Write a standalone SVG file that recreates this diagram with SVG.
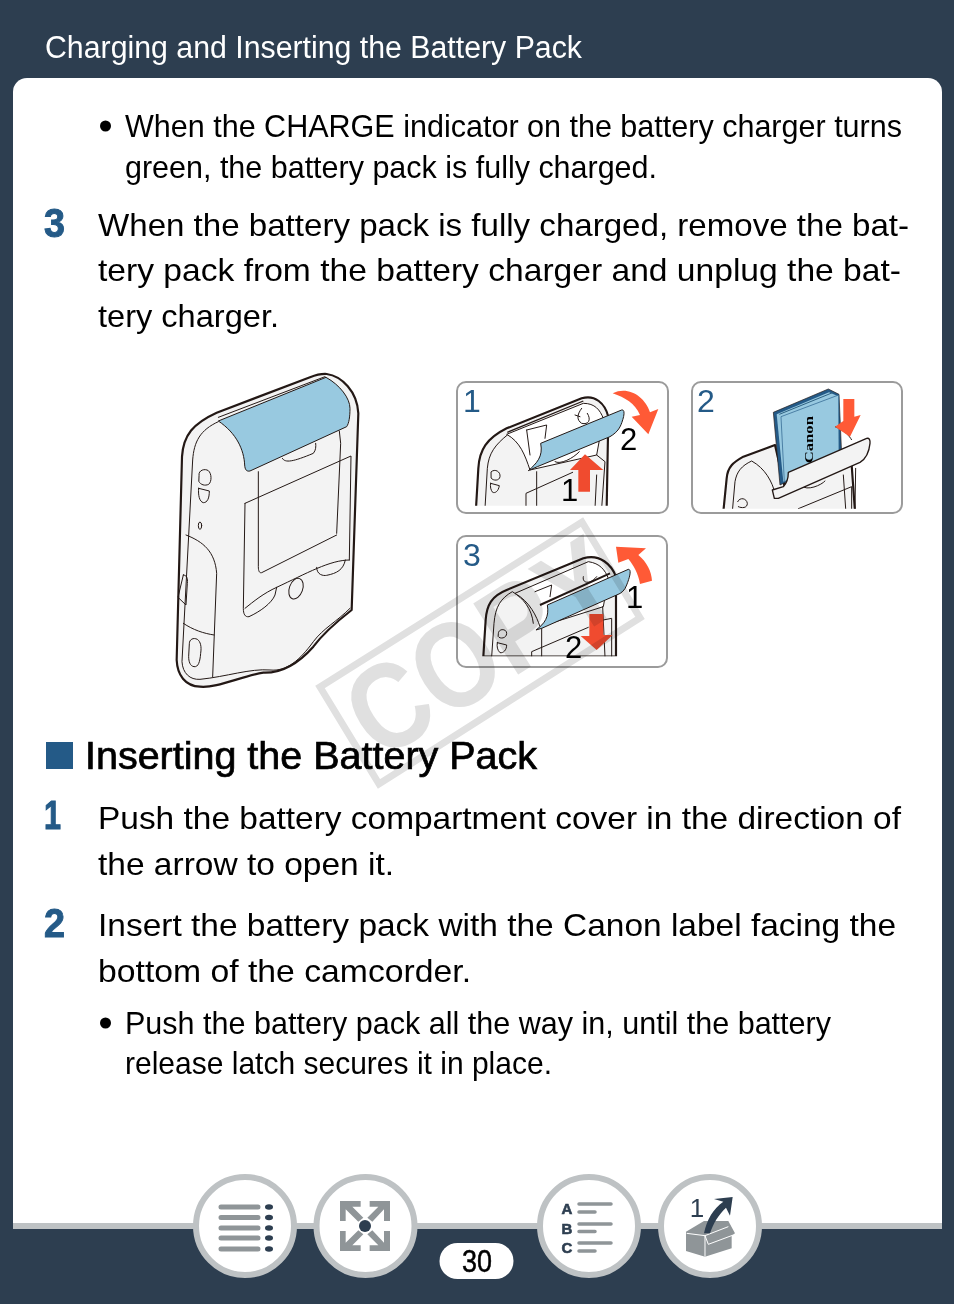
<svg xmlns="http://www.w3.org/2000/svg" width="954" height="1304" viewBox="0 0 954 1304">
<style>
text{font-family:"Liberation Sans",Arial,sans-serif;fill:#000}
.b{font-size:32px}.s{font-size:30.5px}
.n{font-size:40px;font-weight:bold;fill:#245a87;stroke:#245a87;stroke-width:1}
.pn{font-size:32px;fill:#245a87}
.l{font-size:31px}
.t{fill:none;stroke:#231815;stroke-width:3;stroke-linejoin:round;stroke-linecap:round}
.body{fill:#f3f3f3;stroke:#231815;stroke-width:6.500;stroke-linejoin:round}
.blue{fill:#98c9e0}
.frame{fill:#fff;stroke:#9b9b9b;stroke-width:2}
.ring{fill:#fff;stroke:#bec2c4;stroke-width:6}
.g{fill:#8f9598}.d{fill:#2d3e50}
.bar{stroke:#8f9598;stroke-width:5;stroke-linecap:round;fill:none}
</style>
<defs>
<clipPath id="c1"><rect x="0" y="0" width="700" height="392"/></clipPath>
<clipPath id="c3"><rect x="400" y="60" width="700" height="379"/></clipPath>
<clipPath id="c2"><rect x="0" y="0" width="700" height="401"/></clipPath>
</defs>
<rect id="bg" width="954" height="1304" fill="#2d3e50"/>
<path id="panel" d="M13,1229V92a14,14 0 0 1 14,-14H928a14,14 0 0 1 14,14V1229Z" fill="#fff"/>
<rect id="strip" x="13" y="1223" width="929" height="6" fill="#bec2c4"/>
<text x="45" y="58" font-size="31" textLength="537" lengthAdjust="spacingAndGlyphs" style="fill:#fff">Charging and Inserting the Battery Pack</text>

<g id="camera" transform="translate(150 360) scale(.33333)">
<path class="body" d="M530,42C575,48 622,95 625,160L605,750C560,785 520,820 490,860C450,905 400,940 340,938C270,950 200,985 150,980C105,978 82,945 80,900L96,290C100,225 130,190 200,158L480,52C500,44 515,41 530,42Z"/>
<path class="t" d="M205,185C150,210 132,245 128,300L96,905C98,940 120,960 150,958C230,950 300,925 360,930C410,935 450,900 490,845C520,805 560,785 600,745"/>
<path class="t" d="M205,172L525,50"/>
<path class="blue" d="M205,183L528,52C570,75 600,115 600,145C600,170 597,190 590,200L300,333C290,335 285,330 284,315C282,270 260,220 205,183Z" stroke="#231815" stroke-width="3"/>
<path class="t" d="M568,213L572,250L560,520M325,335L325,620C325,632 328,640 335,638L560,525"/>
<path class="t" d="M285,430L603,288L598,600M285,430L280,745C280,762 285,772 297,770C330,755 365,730 375,705L380,682M285,745C310,725 340,700 380,682"/>
<path class="t" d="M598,600C540,600 470,640 380,682M500,622C500,645 520,648 530,646C560,640 580,630 586,600"/>
<path class="t" d="M397,295C405,310 430,305 490,280C498,270 498,260 497,250"/>
<ellipse class="t" cx="438" cy="686" rx="20" ry="32" transform="rotate(20 438 686)"/>
<path class="t" d="M147,345C145,330 165,325 175,332C185,340 186,365 176,373C165,378 152,375 147,365ZM146,385L178,393C178,415 172,428 160,428C148,425 144,405 146,385Z"/>
<ellipse class="t" cx="150" cy="497" rx="5" ry="11"/>
<path class="t" d="M108,525C160,545 195,575 200,640L188,950M100,790C130,810 160,820 192,825"/>
<path class="t" d="M100,645C110,645 114,655 112,670L108,735L84,712L100,645Z"/>
<path class="t" d="M118,850C118,838 130,832 142,838C152,845 155,860 152,880C150,905 145,922 132,920C120,918 116,905 116,890Z"/>
</g>

<g id="p1">
<rect class="frame" x="457" y="382" width="211" height="131" rx="9"/>
<g transform="translate(450 375) scale(.33333)">
<g clip-path="url(#c1)">
<path class="body" d="M78,400L85,280C88,225 110,190 170,160L395,70C435,58 465,85 475,125L470,400Z"/>
<path class="t" d="M105,400L112,280C116,235 135,210 172,180"/>
<path d="M170,178L400,85C435,85 450,105 460,130L440,240L240,285C225,240 210,200 170,178Z" fill="#fff" stroke="#231815" stroke-width="3"/>
<path d="M172,172L400,78" stroke="#231815" stroke-width="4" fill="none"/>
<path class="t" d="M230,165L290,150L285,190M230,165L240,240M395,100C380,120 380,135 395,145C415,150 425,135 412,115M375,120L390,125"/>
<path class="t" d="M260,400V290M228,400V355L368,292M440,240L465,260L455,400M435,400L440,300"/>
<path class="t" d="M315,260C330,270 370,250 388,230"/>
<path class="t" d="M124,290C135,280 152,290 150,305C148,318 130,318 124,310ZM122,325L148,332C145,350 135,355 128,352C122,345 120,335 122,325Z"/>
</g>
<path class="blue" d="M272,205L515,105C525,103 523,120 518,135C512,155 505,170 480,185L262,275L235,287C260,265 280,245 272,205Z" stroke="#231815" stroke-width="3"/>
<path fill="#f04b2f" d="M405,238L460,285H420V350H385V285H360Z"/>
<path fill="#ff5a36" d="M488,55C535,32 585,65 600,112L625,102L595,178L545,125L570,120C555,85 525,68 488,55Z"/>
</g>
<text class="pn" x="463" y="412">1</text>
<text class="l" x="561" y="501" font-size="29">1</text>
<text class="l" x="620" y="450" font-size="29">2</text>
</g>

<g id="p2">
<rect class="frame" x="692" y="382" width="210" height="131" rx="9"/>
<g transform="translate(685 375) scale(.33333)">
<g clip-path="url(#c2)">
<path class="body" d="M115,410L125,310C128,275 145,262 175,245L270,210L300,340L500,270L510,410Z"/>
<path class="t" d="M142,410L150,320C155,290 170,272 200,258C240,280 262,320 270,355"/>
<path class="t" d="M475,300L482,401M512,280L510,401M340,401L500,335V401M350,332C365,350 410,330 420,318"/>
<path class="t" d="M158,380C165,365 185,370 187,385C187,400 170,400 160,395"/>
</g>
<path d="M265,112L430,42L462,58L470,240L285,330Z" fill="#245a87" stroke="#231815" stroke-width="2"/>
<path d="M275,118L432,52L456,62L462,240L295,320Z" fill="#98c9e0"/>
<path d="M283,118L445,52" stroke="#2d5f80" stroke-width="3" fill="none"/>
<path d="M288,125L461,60L462,240L298,320Z" fill="#98c9e0" stroke="#245a87" stroke-width="2"/>
<path class="body" style="stroke-width:4" d="M268,370L262,345L295,335C305,325 310,310 310,292L545,190C553,188 556,195 555,205C553,225 545,250 525,262L280,370Z"/>
<path d="M450,155C478,165 495,185 500,195" stroke="#231815" stroke-width="3" fill="none"/>
<path fill="#ff5a36" d="M475,72H508V125L527,120L495,185L450,155L475,138Z"/>
<text x="0" y="0" transform="translate(385 265) rotate(-90)" font-size="40" font-weight="bold" textLength="142" lengthAdjust="spacingAndGlyphs" style="font-family:'Liberation Serif',serif">Canon</text>
</g>
<text class="pn" x="697" y="412">2</text>
</g>

<g id="p3">
<rect class="frame" x="457" y="536" width="210" height="131" rx="9"/>
<g transform="translate(310 510) scale(.33333)">
<g clip-path="url(#c3)">
<path class="body" d="M520,440L527,330C530,285 545,258 590,240L820,145C870,130 905,165 918,200L918,440Z"/>
<path class="t" d="M545,440L552,340C556,290 572,265 607,245C640,265 665,295 670,340"/>
<path d="M615,250L835,155C870,160 885,180 895,205L880,290L690,350C680,320 660,275 615,250Z" fill="#fff" stroke="#231815" stroke-width="3"/>
<path d="M690,285L900,190" stroke="#231815" stroke-width="6" fill="none"/>
<path class="t" d="M675,245L725,225L720,260M820,200C815,220 840,225 860,200M695,440V350M665,440V425L835,352M878,290L885,440M905,440V325L880,330"/>
<path class="t" d="M565,370C565,355 590,355 590,370C590,385 570,388 565,380ZM562,398L590,405C590,420 580,430 570,428C562,420 560,410 562,398Z"/>
</g>
<path class="blue" d="M712,285L955,178C965,178 960,200 950,225C945,240 935,250 920,255L695,355L678,360C705,340 718,320 712,285Z" stroke="#231815" stroke-width="3"/>
<path fill="#f04b2f" d="M838,312H880V375H908L860,420L812,378H838Z"/>
<path fill="#ff5a36" d="M918,110L1008,115L985,135C1010,155 1025,185 1026,212L990,222C985,190 970,165 955,147L925,158Z"/>
</g>
<text class="pn" x="463" y="566">3</text>
<text class="l" x="626" y="608" font-size="29">1</text>
<text class="l" x="565" y="658" font-size="29">2</text>
</g>

<g id="watermark" style="mix-blend-mode:multiply">
<path d="M320,687L582,522L640,618L379,784Z" fill="none" stroke="#e0e0e0" stroke-width="7"/>
<text transform="translate(484 650) rotate(-32.300)" x="0" y="39" text-anchor="middle" font-size="122" font-weight="bold" textLength="296" lengthAdjust="spacingAndGlyphs" style="fill:#e0e0e0">COPY</text>
</g>

<g id="text-top">
<circle cx="105.500" cy="126" r="5.500"/>
<text class="s" x="125" y="137" textLength="777" lengthAdjust="spacingAndGlyphs">When the CHARGE indicator on the battery charger turns</text>
<text class="s" x="125" y="178" textLength="532" lengthAdjust="spacingAndGlyphs">green, the battery pack is fully charged.</text>
<text class="n" x="44" y="237" textLength="21" lengthAdjust="spacingAndGlyphs">3</text>
<text class="b" x="98" y="236" textLength="811" lengthAdjust="spacingAndGlyphs">When the battery pack is fully charged, remove the bat-</text>
<text class="b" x="98" y="281" textLength="803" lengthAdjust="spacingAndGlyphs">tery pack from the battery charger and unplug the bat-</text>
<text class="b" x="98" y="327" textLength="181" lengthAdjust="spacingAndGlyphs">tery charger.</text>
</g>

<g id="text-bottom">
<rect x="46" y="742" width="27" height="27" fill="#245a87"/>
<text x="85" y="769" font-size="38" textLength="452" lengthAdjust="spacingAndGlyphs" stroke="#000" stroke-width=".7">Inserting the Battery Pack</text>
<text class="n" x="44" y="829" textLength="17" lengthAdjust="spacingAndGlyphs">1</text>
<text class="b" x="98" y="829" textLength="803" lengthAdjust="spacingAndGlyphs">Push the battery compartment cover in the direction of</text>
<text class="b" x="98" y="875" textLength="296" lengthAdjust="spacingAndGlyphs">the arrow to open it.</text>
<text class="n" x="44" y="937" textLength="21" lengthAdjust="spacingAndGlyphs">2</text>
<text class="b" x="98" y="936" textLength="798" lengthAdjust="spacingAndGlyphs">Insert the battery pack with the Canon label facing the</text>
<text class="b" x="98" y="982" textLength="373" lengthAdjust="spacingAndGlyphs">bottom of the camcorder.</text>
<circle cx="105.500" cy="1023" r="5.500"/>
<text class="s" x="125" y="1034" textLength="706" lengthAdjust="spacingAndGlyphs">Push the battery pack all the way in, until the battery</text>
<text class="s" x="125" y="1074" textLength="427" lengthAdjust="spacingAndGlyphs">release latch secures it in place.</text>
</g>

<g id="btn-contents">
<circle class="ring" cx="245" cy="1226" r="49"/>
<path class="bar" d="M221,1207H258M221,1217.500H258M221,1228H258M221,1238H258M221,1249H258"/>
<g class="d"><ellipse cx="269" cy="1207" rx="4" ry="2.800"/><ellipse cx="269" cy="1217.500" rx="4" ry="2.800"/><ellipse cx="269" cy="1228" rx="4" ry="2.800"/><ellipse cx="269" cy="1238" rx="4" ry="2.800"/><ellipse cx="269" cy="1249" rx="4" ry="2.800"/></g>
</g>
<g id="btn-expand">
<circle class="ring" cx="365.500" cy="1226" r="49"/>
<g class="g" transform="translate(180 1165) scale(.33333)">
<path d="M480,108H542V125L517,125L550,158L535,170L497,133V168H480ZM630,108H569V125L595,125L562,158L577,170L612,133V168H630ZM480,258H542V241L517,241L550,208L535,196L497,233V198H480ZM630,258H569V241L595,241L562,208L577,196L612,233V198H630Z"/>
</g>
<circle class="d" cx="365" cy="1226" r="6"/>
</g>

<rect id="page-pill" x="439.500" y="1243" width="74" height="36" rx="18" fill="#fff"/>
<text x="477" y="1272" font-size="31" text-anchor="middle" textLength="30" lengthAdjust="spacingAndGlyphs" stroke="#000" stroke-width=".5">30</text>

<g id="btn-index">
<circle class="ring" cx="589" cy="1226" r="49"/>
<g style="stroke:#2d3e50;stroke-width:.6">
<text x="567" y="1214" font-size="15" font-weight="bold" text-anchor="middle" style="fill:#2d3e50">A</text>
<text x="567" y="1234" font-size="15" font-weight="bold" text-anchor="middle" style="fill:#2d3e50">B</text>
<text x="567" y="1253" font-size="15" font-weight="bold" text-anchor="middle" style="fill:#2d3e50">C</text>
</g>
<path class="bar" style="stroke-width:3.500" d="M579,1204H611M579,1212H595M579,1224H611M579,1231.500H595M579,1243H611M579,1251H595"/>
</g>
<g id="btn-return">
<circle class="ring" cx="710" cy="1226" r="49"/>
<text x="697" y="1217" font-size="26" text-anchor="middle" style="fill:#2d3e50">1</text>
<g transform="translate(430 1165) scale(.33333)">
<path class="g" d="M768,200L822,168L895,168L915,205L905,212V250L825,275L768,258Z"/>
<path d="M770,205L825,212V275M825,212L835,238L910,210M825,212L895,185" stroke="#fff" stroke-width="3" fill="none"/>
<path class="d" d="M822,205C830,165 850,130 880,110L852,102L908,96L900,152L888,128C865,150 850,175 840,205Z"/>
</g>
</g>
</svg>
